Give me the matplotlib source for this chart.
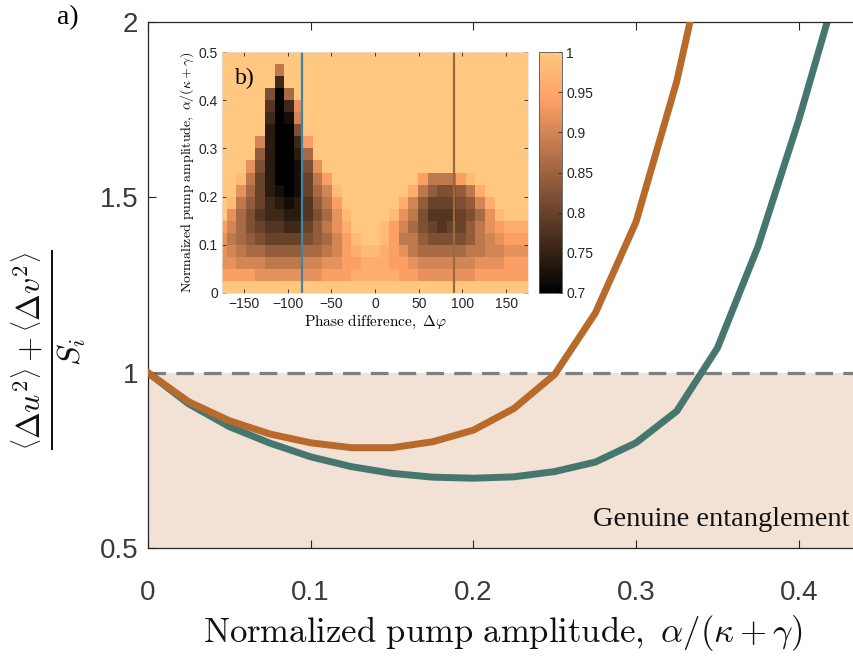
import numpy as np
import matplotlib.pyplot as plt

plt.rcParams['mathtext.fontset'] = 'cm'

# main panel: entanglement criterion vs normalized pump amplitude
pump_orange = [0, 0.025, 0.05, 0.075, 0.1, 0.125, 0.15, 0.175, 0.2, 0.225,
               0.25, 0.275, 0.3, 0.325, 0.35]
ratio_orange = [1.0, 0.917, 0.863, 0.825, 0.800, 0.786, 0.786, 0.803, 0.836, 0.898,
                0.995, 1.17, 1.43, 1.83, 2.35]
pump_teal = [0, 0.025, 0.05, 0.075, 0.1, 0.125, 0.15, 0.175, 0.2, 0.225,
             0.25, 0.275, 0.3, 0.325, 0.35, 0.375, 0.4, 0.425]
ratio_teal = [1.0, 0.911, 0.846, 0.799, 0.760, 0.732, 0.713, 0.702, 0.699, 0.703,
              0.718, 0.745, 0.80, 0.89, 1.07, 1.36, 1.72, 2.12]

# inset: criterion map, rows from top (0.475-0.5) to bottom (0-0.025),
# 33 phase columns; each char is a level 0..f -> 0.70..1.00 in 0.02 steps
map_rows = [
    "fffff fffff fffff fffff fffff fffff fff",
    "fffff f9fff fffff fffff fffff fffff fff",
    "fffff f3fff fffff fffff fffff fffff fff",
    "fffff 608ff fffff fffff fffff fffff fff",
    "fffff 403bf fffff fffff fffff fffff fff",
    "fffff 301af fffff fffff fffff fffff fff",
    "fffff 2006f fffff fffff fffff fffff fff",
    "ffffa 2003c fffff fffff fffff fffff fff",
    "ffff7 20028 fffff fffff fffff fffff fff",
    "fffb6 20016 bffff fffff fffff fffff fff",
    "ffe95 20015 9cfff fffff fc999 cefff fff",
    "ffb85 21015 8aeff fffff d9766 79dff fff",
    "fe975 32124 79cff ffffd a7555 67adf fff",
    "fb864 33224 68bef fffeb 96444 568be fff",
    "ca865 44335 79bdf ffeca 86545 579bc ddd",
    "b9876 55556 78ace ffec9 97666 679ab ccc",
    "ba988 77778 89acd eedcb 98888 899aa bbb",
    "bbaaa 9999a abbcc dddcc baaaa aabbb ccc",
    "ccccb bbbbb bcccd ddddc cbbbb bbccc ccc",
    "fffff fffff fffff fffff fffff fffff fff",
]
phase_lines = [-83.5, 90]
cbar_ticks = [0.7, 0.75, 0.8, 0.85, 0.9, 0.95, 1]
cbar_labels = ["0.7", "0.75", "0.8", "0.85", "0.9", "0.95", "1"]

crit = np.array([[0.70 + 0.02 * int(c, 16) for c in r.replace(" ", "")]
                 for r in map_rows])[::-1]
phase_edges = np.linspace(-175 - 175 / 32, 175 + 175 / 32, crit.shape[1] + 1)
amp_edges = np.linspace(0, 0.5, crit.shape[0] + 1)

dark = '#262626'
fig = plt.figure(figsize=(8.54, 6.57), dpi=100)
ax = fig.add_axes([148 / 854, 109 / 657, 706 / 854, 526 / 657])

ax.axhspan(0.5, 1.0, color='#F2E1D5', lw=0, zorder=0)
ax.axhline(1.0, color='#7f7f7f', lw=2.3, ls=(0, (5.5, 3.2)), zorder=1)
ax.plot(pump_orange, ratio_orange, color='#B86A2B', lw=5, zorder=3,
        solid_joinstyle='round')
ax.plot(pump_teal, ratio_teal, color='#46776F', lw=5, zorder=2,
        solid_joinstyle='round')
ax.set_xlim(0, 0.434)
ax.set_ylim(0.5, 2)
ax.set_xticks([0, 0.1, 0.2, 0.3, 0.4])
ax.set_xticklabels(["0", "0.1", "0.2", "0.3", "0.4"])
ax.set_yticks([0.5, 1, 1.5, 2])
ax.set_yticklabels(["0.5", "1", "1.5", "2"])
ax.tick_params(direction='in', length=6, width=0.8, colors=dark,
               labelcolor='#3a3a3a', labelsize=20, top=True)
ax.tick_params(axis='x', pad=23)
ax.tick_params(axis='y', pad=7)
for lab in ax.get_xticklabels() + ax.get_yticklabels():
    lab.set_fontfamily('Liberation Sans')
ax.spines['right'].set_visible(False)
for s in ['left', 'bottom', 'top']:
    ax.spines[s].set_color(dark)
    ax.spines[s].set_linewidth(0.9)

ax.text(0.431, 0.58, "Genuine entanglement", ha='right', va='center',
        fontsize=20.5, family='Liberation Serif', color='#111111')
fig.text(503 / 854, 1 - 633 / 657,
         r"$\mathrm{Normalized\ pump\ amplitude,}\ \alpha/(\kappa+\gamma)$",
         ha='center', va='center', fontsize=25, color='#111111')
fig.text(50 / 854, 1 - 350 / 657,
         r"$\frac{\left\langle\Delta u^2\right\rangle+\left\langle\Delta v^2\right\rangle}{S_i}$",
         ha='center', va='center', rotation=90, fontsize=33, color='#111111')
fig.text(68 / 854, 1 - 18 / 657, "a)", ha='center', va='center',
         fontsize=20, family='Liberation Serif')

# inset
axi = fig.add_axes([222 / 854, 364 / 657, 306 / 854, 241 / 657])
mesh = axi.pcolormesh(phase_edges, amp_edges, crit, cmap='copper',
                      vmin=0.7, vmax=1.0)
axi.axvline(phase_lines[0], color='#3F85A5', lw=1.6)
axi.axvline(phase_lines[1], color='#9A6A3E', lw=1.6)
axi.set_xlim(-175, 175)
axi.set_ylim(0, 0.5)
axi.set_xticks([-150, -100, -50, 0, 50, 100, 150])
axi.set_yticks([0, 0.1, 0.2, 0.3, 0.4, 0.5])
axi.set_yticklabels(["0", "0.1", "0.2", "0.3", "0.4", "0.5"])
axi.tick_params(direction='in', length=3, width=0.6, colors=dark,
                labelsize=10, top=True, right=True, pad=3)
for lab in axi.get_xticklabels() + axi.get_yticklabels():
    lab.set_fontfamily('Liberation Sans')
for s in axi.spines.values():
    s.set_linewidth(0.5)
    s.set_color('#dddddd')
axi.set_xlabel(r"$\mathrm{Phase\ difference,}\ \Delta\varphi$", fontsize=11,
               labelpad=1)
axi.set_ylabel(r"$\mathrm{Normalized\ pump\ amplitude,}\ \alpha/(\kappa+\gamma)$",
               fontsize=10, labelpad=2)
axi.text(-160, 0.445, "b)", fontsize=17, family='Liberation Serif',
         va='center')

cax = fig.add_axes([539 / 854, 364 / 657, 23 / 854, 241 / 657])
cb = fig.colorbar(mesh, cax=cax, ticks=cbar_ticks)
cb.ax.set_yticklabels(cbar_labels)
cb.ax.tick_params(direction='in', length=3, width=0.6, labelsize=10,
                  colors=dark, pad=3)
for lab in cb.ax.get_yticklabels():
    lab.set_fontfamily('Liberation Sans')
cb.outline.set_linewidth(0.6)
cb.outline.set_edgecolor('#555555')

fig.savefig('out.png', dpi=100)
